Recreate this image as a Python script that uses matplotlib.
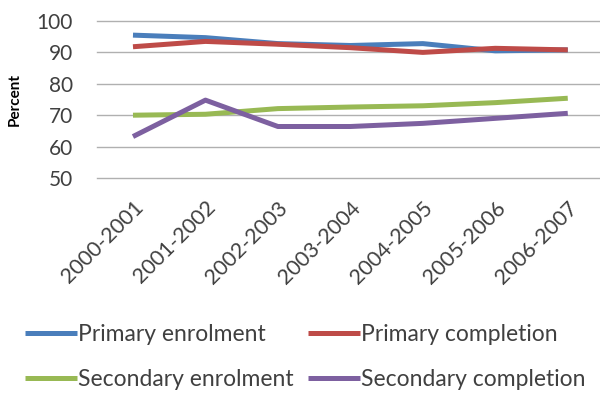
import matplotlib
matplotlib.use("Agg")
import matplotlib.pyplot as plt

plt.rcParams['font.family'] = ['Lato', 'DejaVu Sans']

years = ["2000-2001", "2001-2002", "2002-2003", "2003-2004", "2004-2005", "2005-2006", "2006-2007"]
primary_enrolment = [95.5, 94.7, 92.8, 92.2, 92.8, 90.5, 90.8]
primary_completion = [91.8, 93.5, 92.6, 91.5, 90.0, 91.3, 90.8]
secondary_enrolment = [70.0, 70.3, 72.1, 72.6, 73.0, 74.0, 75.4]
secondary_completion = [63.2, 74.8, 66.4, 66.4, 67.4, 69.0, 70.6]
series_names = ["Primary enrolment", "Primary completion", "Secondary enrolment", "Secondary completion"]
yticks = [50, 60, 70, 80, 90, 100]

colors = ["#4a7ebb", "#be4b48", "#98b954", "#7d60a0"]

fig = plt.figure(figsize=(6.0, 3.94), dpi=100)
ax = fig.add_axes([96.75/600, 1-178/394, (604-96.75)/600, 157/394])

x = list(range(len(years)))
handles = []
for vals, name, c in zip([primary_enrolment, primary_completion, secondary_enrolment, secondary_completion],
                         series_names, colors):
    h, = ax.plot(x, vals, color=c, lw=3.6, solid_capstyle='butt', label=name, zorder=3)
    handles.append(h)

ax.set_xlim(-0.5, len(years) - 0.5)
ax.set_ylim(50, 100)
ax.set_yticks(yticks)
ax.set_xticks(x)
ax.set_xticklabels(years, rotation=45, ha='right', va='top', rotation_mode='anchor')
for s in ax.spines.values():
    s.set_visible(False)
ax.tick_params(axis='both', length=0, colors='#404040')
ax.tick_params(axis='y', pad=17, labelsize=15)
ax.tick_params(axis='x', pad=14, labelsize=15.5)
ax.grid(axis='y', color='#b0b0b0', lw=1.0)
for gl in ax.yaxis.get_gridlines():
    gl.set_clip_on(False)
ax.set_axisbelow(True)

fig.text(15/600, 1-99/394, "Percent", rotation=90, fontsize=11, fontweight='bold',
         ha='center', va='center', color='black')

fig.legend(handles=[handles[0], handles[2], handles[1], handles[3]],
           labels=[series_names[0], series_names[2], series_names[1], series_names[3]],
           ncol=2, loc='center left', bbox_to_anchor=(25/600, 1-357/394),
           frameon=False, fontsize=16.5, handlelength=2.27, handletextpad=0.05,
           borderpad=0, borderaxespad=0,
           columnspacing=0.6, labelspacing=1.05, labelcolor='#404040')

fig.savefig("out.png", dpi=100)
